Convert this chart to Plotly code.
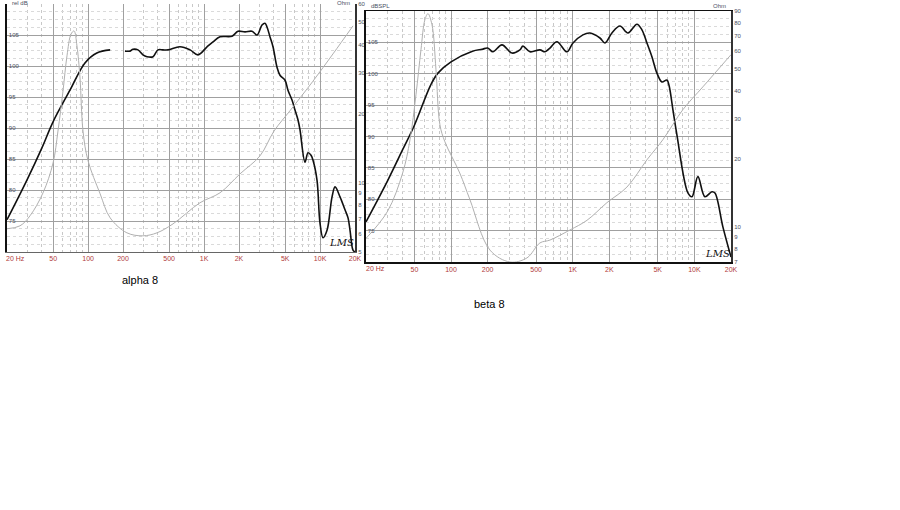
import math
import plotly.graph_objects as go

W, H = 900, 510

# ---------------- data ----------------
freq_ticks = [20, 50, 100, 200, 500, 1000, 2000, 5000, 10000, 20000]
freq_labels = ["20 Hz", "50", "100", "200", "500", "1K", "2K", "5K", "10K", "20K"]
minor_freqs = [30, 40, 60, 70, 80, 90, 300, 400, 600, 700, 800, 900,
               3000, 4000, 6000, 7000, 8000, 9000]
spl_ticks = [70, 75, 80, 85, 90, 95, 100, 105, 110]
ohm_ticks_alpha = [5, 6, 7, 8, 9, 10, 20, 30, 40, 50, 60]
ohm_ticks_beta = [7, 8, 9, 10, 20, 30, 40, 50, 60, 70, 80, 90]

# alpha 8 : SPL (black)
alpha_spl_freq = [20, 29.7, 40, 49.9, 69.8, 94, 119, 155, None, 208, 230, 244, 269, 297,
                  322, 363, 400, 442, 489, 620, 757, 887, 1060, 1194, 1372, 1742, 1960,
                  2254, 2589, 2860, 3156, 3350, 3486, 3700, 3928, 4254, 4512, 4987, 5288,
                  5728, 6078, 6454, 6714, 7414, 7872, 8356, 8690, 9406, 9980, 10600,
                  11480, 12680, 13460, 14860, 16400, 17420, 18120, 19220, 20000]
alpha_spl_db = [75.2, 81.6, 86.8, 91.0, 96.1, 100.5, 102.1, 102.6, None, 102.4, 102.4, 102.7,
                102.6, 101.8, 101.5, 101.5, 102.6, 102.6, 102.6, 103.1, 102.6, 101.8, 103.1,
                103.9, 104.7, 104.8, 105.6, 105.5, 105.6, 105.0, 106.6, 106.9, 106.3, 104.7,
                103.1, 99.8, 98.5, 97.7, 96.1, 94.5, 92.9, 91.3, 89.7, 84.5, 86.0, 85.6,
                84.8, 81.6, 74.7, 72.3, 73.5, 78.9, 80.5, 78.9, 76.8, 75.5, 73.5, 70.3, 70.0]

# alpha 8 : impedance (grey)
alpha_z_freq = [20, 25.9, 31.6, 40.9, 49.9, 55, 60.8, 65.8, 71.3, 75.7, 80.2, 85.2, 90.4,
                99.8, 127, 155, 216, 297, 393, 540, 922, 1372, 2040, 3034, 4008, 5506,
                8690, 12920, 19220]
alpha_z_ohm = [6.31, 6.5, 7.19, 9.05, 12.2, 16.8, 25.1, 35.7, 44.4, 45.8, 39.4, 28.6, 16.8,
               12.5, 8.96, 7.04, 6.06, 5.88, 6.06, 6.63, 8.19, 9.05, 10.94, 13.1, 16.8, 20.6,
               27.7, 36.4, 48.2]

# beta 8 : SPL (black)
beta_spl_freq = [20, 30, 40, 50, 68, 78, 100, 150, 180, 200, 221, 262, 317, 368, 390, 445,
                 538, 592, 650, 742, 897, 1005, 1213, 1386, 1675, 1841, 2100, 2444, 2845,
                 3372, 3707, 4074, 4478, 4922, 5409, 5946, 6180, 6670, 7180, 8850, 9550,
                 10690, 12210, 13940, 14760, 17150, 20000]
beta_spl_db = [76.4, 82.9, 87.9, 91.8, 98.2, 100.1, 101.9, 103.6, 103.9, 104.1, 103.5, 104.6,
               103.3, 103.8, 104.4, 103.5, 103.8, 103.5, 104.1, 105.1, 103.5, 104.9, 106.2,
               106.5, 105.7, 104.9, 106.5, 107.6, 106.5, 107.9, 107.0, 104.9, 102.7, 100.1,
               98.7, 99.0, 98.2, 94.2, 90.3, 81.0, 80.4, 83.6, 80.4, 81.2, 81.0, 75.6, 70.8]

# beta 8 : impedance (grey)
beta_z_freq = [20, 30, 40, 46, 51.5, 56.6, 61, 64.6, 69.7, 75.2, 81, 89, 118, 143, 209, 305,
               421, 538, 650, 950, 1310, 1910, 2790, 4074, 5510, 8050, 11750, 20000]
beta_z_ohm = [8.9, 11.7, 17.3, 24.3, 38.4, 60.7, 82.4, 87.6, 78.3, 49.5, 28.3, 23.8, 17.3,
              13.2, 7.9, 7.0, 7.3, 8.5, 8.75, 9.7, 10.7, 12.8, 15.0, 19.8, 24.3, 33, 41.6,
              57.7]

# ---------------- helpers ----------------
def px(x):
    return x / W


def py(y):
    return 1 - y / H


FONT = "Liberation Sans, Arial, sans-serif"
RED = "#b03a3a"
LBL = "#4a4f63"

fig = go.Figure()

fig.add_trace(go.Scatter(x=alpha_z_freq, y=alpha_z_ohm, xaxis="x", yaxis="y2",
                         mode="lines", line=dict(color="#b0b0b0", width=1, shape="spline"),
                         hoverinfo="skip", showlegend=False))
fig.add_trace(go.Scatter(x=alpha_spl_freq, y=alpha_spl_db, xaxis="x", yaxis="y",
                         mode="lines", line=dict(color="#111111", width=1.6, shape="spline"),
                         connectgaps=False, showlegend=False))
fig.add_trace(go.Scatter(x=beta_z_freq, y=beta_z_ohm, xaxis="x2", yaxis="y4",
                         mode="lines", line=dict(color="#b0b0b0", width=1, shape="spline"),
                         hoverinfo="skip", showlegend=False))
fig.add_trace(go.Scatter(x=beta_spl_freq, y=beta_spl_db, xaxis="x2", yaxis="y3",
                         mode="lines", line=dict(color="#111111", width=1.6, shape="spline"),
                         showlegend=False))

xlabels_no_first = [""] + freq_labels[1:]


def xaxis_cfg(domain, anchor):
    return dict(
        type="log", domain=domain, anchor=anchor, range=[math.log10(20), math.log10(20000)],
        tickmode="array", tickvals=freq_ticks, ticktext=xlabels_no_first,
        tickfont=dict(size=7, color=RED, family=FONT), ticks="", ticklen=0,
        showgrid=True, gridcolor="#a0a0a0", gridwidth=1,
        minor=dict(tickvals=minor_freqs, showgrid=True, gridcolor="#c8c8c8",
                   griddash="dot", gridwidth=1, ticks=""),
        showline=True, linecolor="#666666", linewidth=1, mirror=False,
        zeroline=False, fixedrange=True, automargin=False,
    )


def spl_axis(domain, anchor):
    return dict(
        domain=domain, anchor=anchor, range=[70, 110], tickmode="array",
        tickvals=spl_ticks, ticktext=[str(v) for v in spl_ticks],
        tickfont=dict(size=6, color=LBL, family=FONT), ticks="",
        ticklabelposition="inside",
        showgrid=True, gridcolor="#a0a0a0", gridwidth=1,
        minor=dict(dtick=1.25, showgrid=True, gridcolor="#dadada", griddash="dot", ticks=""),
        showline=True, linecolor="#111111", linewidth=2, zeroline=False, fixedrange=True,
        automargin=False,
    )


def ohm_axis(anchor, overlay, lo, hi, ticks):
    return dict(
        type="log", anchor=anchor, overlaying=overlay, side="right",
        range=[math.log10(lo), math.log10(hi)], tickmode="array", tickvals=ticks,
        ticktext=[str(v) for v in ticks], tickfont=dict(size=6, color=LBL, family=FONT),
        ticks="", ticklen=0, showgrid=False, showline=True, linecolor="#333333",
        linewidth=2, zeroline=False, fixedrange=True, automargin=False,
    )


left_x = [px(7), px(355)]
left_y = [py(252), py(4)]
right_x = [px(366), px(731)]
right_y = [py(262), py(11)]

fig.update_layout(
    width=W, height=H, margin=dict(l=0, r=0, t=0, b=0, autoexpand=False),
    paper_bgcolor="white", plot_bgcolor="white",
    font=dict(family=FONT, size=7, color=LBL),
    xaxis=xaxis_cfg(left_x, "y"),
    yaxis=spl_axis(left_y, "x"),
    yaxis2=ohm_axis("x", "y", 5, 60, ohm_ticks_alpha),
    xaxis2=xaxis_cfg(right_x, "y3"),
    yaxis3=spl_axis(right_y, "x2"),
    yaxis4=ohm_axis("x2", "y3", 7, 90, ohm_ticks_beta),
)
fig.layout.xaxis2.linecolor = "#111111"
fig.layout.xaxis2.linewidth = 1.5
fig.layout.xaxis2.mirror = True

annotations = [
    dict(x=px(4), y=py(258), text="20 Hz", xanchor="left", yanchor="middle",
         font=dict(size=7, color=RED)),
    dict(x=px(364), y=py(268), text="20 Hz", xanchor="left", yanchor="middle",
         font=dict(size=7, color=RED)),
    dict(x=px(10), y=py(3), text="rel dB", xanchor="left", yanchor="middle",
         font=dict(size=6, color=LBL)),
    dict(x=px(352), y=py(3), text="Ohm", xanchor="right", yanchor="middle",
         font=dict(size=6, color=LBL)),
    dict(x=px(369), y=py(6), text="dBSPL", xanchor="left", yanchor="middle",
         font=dict(size=6, color=LBL)),
    dict(x=px(728), y=py(6), text="Ohm", xanchor="right", yanchor="middle",
         font=dict(size=6, color=LBL)),
    dict(x=px(341), y=py(242), text="<i>LMS</i>", xanchor="center", yanchor="middle",
         font=dict(size=10, color="#111111", family="DejaVu Serif")),
    dict(x=px(717), y=py(253), text="<i>LMS</i>", xanchor="center", yanchor="middle",
         font=dict(size=10, color="#111111", family="DejaVu Serif")),
    dict(x=px(140), y=py(280), text="alpha 8", xanchor="center", yanchor="middle",
         font=dict(size=11, color="#000000", family=FONT)),
    dict(x=px(490), y=py(304), text="beta 8", xanchor="center", yanchor="middle",
         font=dict(size=11, color="#000000", family=FONT)),
]
for a in annotations:
    a.update(xref="paper", yref="paper", showarrow=False)
fig.update_layout(annotations=annotations)

fig.write_html("out.html", config={"displayModeBar": False, "staticPlot": True},
               post_script="document.body.style.margin='0';document.body.style.overflow='hidden';")
